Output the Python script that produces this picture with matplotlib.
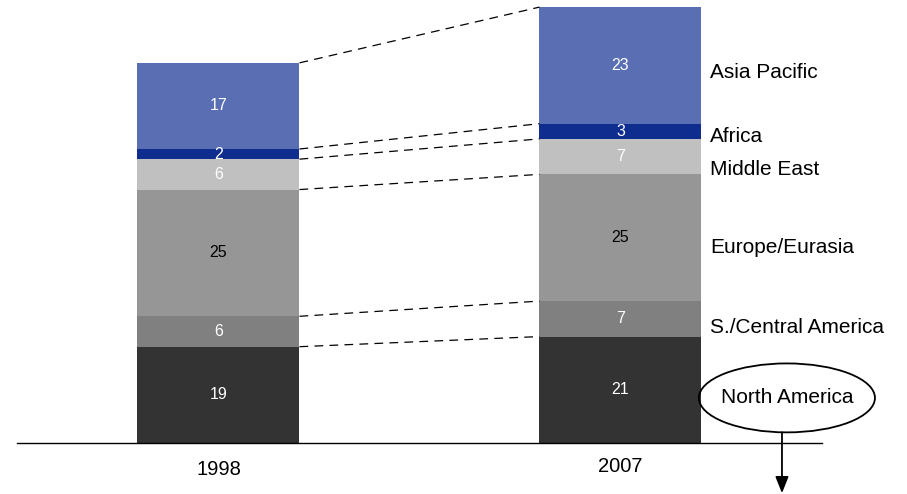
import matplotlib
matplotlib.use("Agg")
import matplotlib.pyplot as plt
from matplotlib.patches import Ellipse
import numpy as np

plt.rcParams["font.family"] = ["Liberation Sans", "DejaVu Sans"]

years = ["1998", "2007"]
regions = ["North America", "S./Central America", "Europe/Eurasia",
           "Middle East", "Africa", "Asia Pacific"]
values_1998 = [19, 6, 25, 6, 2, 17]
values_2007 = [21, 7, 25, 7, 3, 23]
colors = ["#333333", "#808080", "#969696", "#c0c0c0", "#0e2d8f", "#5a6fb3"]
text_colors = ["white", "white", "black", "white", "white", "white"]

# label nudges (in value units) for the right-hand region names
label_shift = [-1.6, -1.7, -1.9, -2.6, -1.1, -1.4]

fig = plt.figure(figsize=(9.07, 4.94), dpi=100)
ax = fig.add_axes([0, 0, 1, 1])
ax.set_xlim(-0.5435, 1.7127)
ax.set_ylim(-10.06, 87.4)
ax.axis("off")

x = np.arange(len(years))
width = 0.403
data = np.array([values_1998, values_2007])
bottoms = np.zeros(len(years))
for i, reg in enumerate(regions):
    vals = data[:, i]
    ax.bar(x, vals, width, bottom=bottoms, color=colors[i], linewidth=0)
    for xi, v, b in zip(x, vals, bottoms):
        ax.text(xi, b + v / 2, str(v), ha="center", va="center",
                fontsize=11.5, color=text_colors[i])
    bottoms = bottoms + vals

# dashed connectors between segment tops
tops = np.cumsum(data, axis=1)
for i in range(len(regions)):
    ax.plot([x[0] + width / 2, x[1] - width / 2], [tops[0, i], tops[1, i]],
            color="black", lw=0.9, ls=(0, (7, 5)))

# region names to the right of the 2007 bar
centers_2007 = tops[1] - data[1] / 2
for reg, c, s in zip(regions, centers_2007, label_shift):
    if reg == "North America":
        continue
    ax.text(1.2226, c + s, reg, ha="left", va="center", fontsize=15)

# baseline
ax.plot([-0.502, 1.501], [0, 0], color="black", lw=1)

# year labels
ax.text(x[0], -5.2, years[0], ha="center", va="center", fontsize=14.5)
ax.text(x[1], -4.7, years[1], ha="center", va="center", fontsize=14.5)

# circled North America with arrow
na_y = centers_2007[0] - 1.6
ax.add_patch(Ellipse((1.414, na_y), 0.438, 13.6, fill=False,
                     edgecolor="black", lw=1.3))
ax.text(1.414, na_y, "North America", ha="center", va="center", fontsize=15)
ax.annotate("", xy=(1.4017, -9.9), xytext=(1.4017, na_y - 6.8),
            arrowprops=dict(arrowstyle="-|>,head_length=1.0,head_width=0.4",
                            color="black", lw=1.3, shrinkA=0, shrinkB=0))

fig.savefig("out.png", dpi=100)
